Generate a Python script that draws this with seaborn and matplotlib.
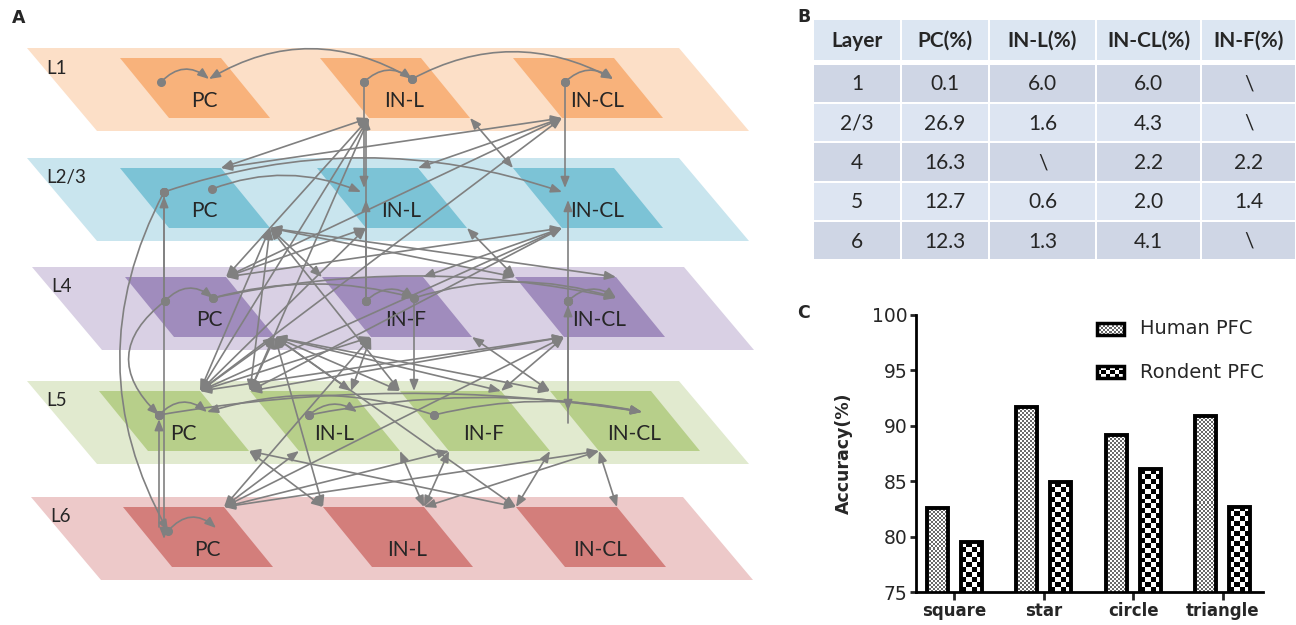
import numpy as np
import pandas as pd
import matplotlib
matplotlib.use("Agg")
import matplotlib.pyplot as plt
import seaborn as sns
from matplotlib.patches import Polygon, Rectangle, FancyArrowPatch
from matplotlib.colors import ListedColormap

# ---------------- data ----------------
# panel A : layers, cell types and their connections
layer_names = ["L1", "L2/3", "L4", "L5", "L6"]
layer_cells = [["PC", "IN-L", "IN-CL"],
               ["PC", "IN-L", "IN-CL"],
               ["PC", "IN-F", "IN-CL"],
               ["PC", "IN-L", "IN-F", "IN-CL"],
               ["PC", "IN-L", "IN-CL"]]
outer_colors = ["#fcdfc7", "#c9e5ee", "#d9d0e4", "#e1eacf", "#edc9c9"]
inner_colors = ["#f8b27b", "#7cc3d6", "#a08cbd", "#b7cf8a", "#d37e7b"]

# two-way links between cell groups of different layers
links = [
    ("L1:IN-L:BL", "L2/3:PC:TR"), ("L1:IN-L:BL", "L4:PC:TR"),
    ("L1:IN-L:BL", "L5:PC:TR"), ("L1:IN-L:BL", "L5:IN-L:TL"),
    ("L1:IN-CL:BL", "L2/3:IN-L:TR"), ("L1:IN-CL:BL", "L2/3:PC:TR"),
    ("L1:IN-CL:BL", "L4:PC:TR"), ("L1:IN-CL:BL", "L5:PC:TR"),
    ("L1:IN-L:BR", "L2/3:IN-CL:TL"),
    ("L2/3:PC:BR", "L4:IN-F:TL"), ("L2/3:PC:BR", "L4:IN-CL:TL"),
    ("L2/3:PC:BR", "L4:IN-CL:TR"), ("L2/3:PC:BR", "L5:PC:TR"),
    ("L2/3:PC:BR", "L5:IN-L:TL"), ("L2/3:PC:BR", "L5:IN-F:TL"),
    ("L2/3:IN-L:BL", "L4:PC:TR"), ("L2/3:IN-L:BL", "L5:PC:TR"),
    ("L2/3:IN-CL:BL", "L4:PC:TR"), ("L2/3:IN-CL:BL", "L4:IN-F:TR"),
    ("L2/3:IN-CL:BL", "L5:PC:TR"), ("L2/3:IN-CL:BL", "L5:IN-L:TL"),
    ("L2/3:IN-L:BR", "L4:IN-CL:TL"),
    ("L4:PC:BR", "L5:PC:TR"), ("L4:PC:BR", "L5:IN-L:TL"),
    ("L4:PC:BR", "L5:IN-L:TR"), ("L4:PC:BR", "L5:IN-F:TL"),
    ("L4:PC:BR", "L5:IN-F:TR"), ("L4:PC:BR", "L5:IN-CL:TL"),
    ("L4:PC:BR", "L6:IN-L:TL"), ("L4:PC:BR", "L6:IN-CL:TL"),
    ("L4:IN-F:BL", "L5:PC:TR"), ("L4:IN-F:BL", "L5:IN-L:TR"),
    ("L4:IN-F:BL", "L6:PC:TR"),
    ("L4:IN-CL:BL", "L5:PC:TR"), ("L4:IN-CL:BL", "L5:IN-L:TL"),
    ("L4:IN-CL:BL", "L5:IN-F:TR"), ("L4:IN-CL:BL", "L6:PC:TR"),
    ("L4:IN-F:BR", "L5:IN-CL:TL"),
    ("L5:PC:BR", "L6:IN-L:TL"), ("L5:PC:BR", "L6:IN-CL:TL"),
    ("L5:IN-L:BL", "L6:PC:TR"), ("L5:IN-L:BR", "L6:IN-L:TR"),
    ("L5:IN-F:BL", "L6:PC:TR"), ("L5:IN-F:BL", "L6:IN-L:TR"),
    ("L5:IN-F:BR", "L6:IN-CL:TL"),
    ("L5:IN-CL:BL", "L6:PC:TR"), ("L5:IN-CL:BL", "L6:IN-L:TR"),
    ("L5:IN-CL:BL", "L6:IN-CL:TR"),
]
# vertical one-way links: (cell, other layer, level there, direction)
vlinks = [
    ("L1:IN-L:p", "L2/3", "mid", "out"), ("L4:IN-F:p", "L1", "bot", "out"),
    ("L4:IN-F:p", "L2/3", "low", "out"), ("L1:IN-CL:p", "L2/3", "mid", "out"),
    ("L4:IN-CL:p", "L2/3", "low", "out"), ("L4:IN-CL:p", "L5", "mid", "out"),
    ("L4:IN-CL:p", "L5", "low", "in"), ("L4:IN-F:q", "L5", "top", "out"),
    ("L2/3:PC:p", "L4", "mid", "in"), ("L2/3:PC:p", "L6", "low", "out"),
    ("L5:PC:p", "L6", "mid", "in"),
]
# curved links (source dot -> target arrow, bulge height)
arcs = [
    ("L1:PC:p", "L1:PC:q", 11), ("L1:IN-L:q", "L1:PC:q", 30),
    ("L1:IN-L:p", "L1:IN-L:q", 10), ("L1:IN-L:q", "L1:IN-CL:q", 27),
    ("L1:IN-CL:p", "L1:IN-CL:q", 10),
    ("L2/3:PC:q", "L2/3:IN-L:p", 15), ("L2/3:PC:p", "L2/3:IN-CL:p", 34),
    ("L4:PC:p", "L4:PC:q", 11), ("L4:PC:q", "L4:IN-F:q", 14),
    ("L4:PC:q", "L4:IN-CL:q", 22), ("L4:IN-F:p", "L4:IN-F:q", 10),
    ("L4:IN-F:q", "L4:IN-CL:q", 16), ("L4:IN-CL:p", "L4:IN-CL:q", 10),
    ("L5:PC:p", "L5:PC:q", 11), ("L5:IN-F:p", "L5:PC:q", 18),
    ("L5:PC:p", "L5:IN-CL:q", 20), ("L5:IN-L:p", "L5:IN-L:q", 9),
    ("L5:IN-L:p", "L5:IN-CL:q", 16), ("L5:IN-F:p", "L5:IN-CL:q", 12),
    ("L6:PC:p", "L6:PC:q", 12),
    ("L2/3:PC:p", "L6:PC:p", 46), ("L4:PC:p", "L5:PC:p", 33),
]

# panel B : table
table_header = ["Layer", "PC(%)", "IN-L(%)", "IN-CL(%)", "IN-F(%)"]
table_rows = [["1", "0.1", "6.0", "6.0", "\\"],
              ["2/3", "26.9", "1.6", "4.3", "\\"],
              ["4", "16.3", "\\", "2.2", "2.2"],
              ["5", "12.7", "0.6", "2.0", "1.4"],
              ["6", "12.3", "1.3", "4.1", "\\"]]

# panel C : accuracy
shapes = ["square", "star", "circle", "triangle"]
groups = ["Human PFC", "Rondent PFC"]
human_acc = [82.6, 91.7, 89.2, 90.9]
rodent_acc = [79.5, 84.9, 86.1, 82.7]

# ---------------- layout of panel A (pixel space) ----------------
layer_top = [48, 158, 267, 381, 497]
layer_left = [27, 27, 32, 27, 31]
cell_left = [[120, 320, 513], [120, 317, 513], [125, 322, 515],
             [99, 250, 400, 550], [123, 323, 516]]
dot_dx = [[41, 44, 52], [44, 44, 49], [40, 44, 53], [60, 59, 34, 44], [45, 44, 44]]
GRAY = "#808080"
HEADS = "head_length=0.55,head_width=0.22"


def anchor(spec):
    ln, cell, a = spec.split(":")
    li = layer_names.index(ln)
    ci = layer_cells[li].index(cell)
    x0 = cell_left[li][ci]
    t = layer_top[li] + 10
    d = dot_dx[li][ci]
    pts = {"TL": (x0, t), "TR": (x0 + 101, t), "BL": (x0 + 49, t + 60),
           "BR": (x0 + 150, t + 60), "p": (x0 + d, t + 24), "q": (x0 + d + 48, t + 21)}
    return pts[a]


def level_y(ln, lev):
    t = layer_top[layer_names.index(ln)] + 10
    return {"top": t, "mid": t + 20, "low": t + 32, "bot": t + 60}[lev]


sns.set_style("white")
plt.rcParams["font.family"] = ["DejaVu Sans"]

fig = plt.figure(figsize=(12.96, 6.25), dpi=100)
ax0 = fig.add_axes([0, 0, 1, 1])
ax0.axis("off")

# layer planes
for li, name in enumerate(layer_names):
    T = layer_top[li]
    L = layer_left[li]
    ax0.add_patch(Polygon([(L, T), (L + 652, T), (L + 722, T + 83), (L + 70, T + 83)],
                          closed=True, fc=outer_colors[li], ec="none", zorder=1))
    ax0.text(L + 19, T + 20, name, fontsize=13.5, family="Lato", va="center", ha="left", zorder=2)
    for ci, cell in enumerate(layer_cells[li]):
        x0 = cell_left[li][ci]
        t = T + 10
        ax0.add_patch(Polygon([(x0, t), (x0 + 101, t), (x0 + 150, t + 60), (x0 + 49, t + 60)],
                              closed=True, fc=inner_colors[li], ec="none", zorder=2))
        ax0.text(x0 + 84, t + 43, cell, fontsize=15, family="Lato", ha="center", va="center", zorder=3)

# straight two-way links
for a, b in links:
    ax0.add_patch(FancyArrowPatch(anchor(a), anchor(b), arrowstyle="<|-|>," + HEADS,
                                  mutation_scale=12, lw=1.2, color=GRAY, shrinkA=0, shrinkB=0, zorder=5))

# vertical links
dots = []
for spec, ln, lev, way in vlinks:
    p = anchor(spec)
    other = (p[0], level_y(ln, lev))
    dots.append(p)
    src, dst = (p, other) if way == "out" else (other, p)
    ax0.add_patch(FancyArrowPatch(src, dst, arrowstyle="-|>," + HEADS, mutation_scale=12,
                                  lw=1.2, color=GRAY, shrinkA=0, shrinkB=3 if way == "in" else 0, zorder=5))

# curved links
for a, b, h in arcs:
    p1, p2 = anchor(a), anchor(b)
    dx = p2[0] - p1[0]
    dy_up = -(p2[1] - p1[1])
    length = np.hypot(dx, dy_up)
    if abs(dx) >= abs(dy_up):
        rad = -np.sign(dx) * 2 * h / length
    else:
        rad = -np.sign(dy_up) * 2 * h / length
    ax0.add_patch(FancyArrowPatch(p1, p2, arrowstyle="-|>," + HEADS, mutation_scale=12,
                                  connectionstyle=f"arc3,rad={rad:.3f}", lw=1.2, color=GRAY,
                                  shrinkA=0, shrinkB=0, zorder=5))
    dots.append(p1)

dots = np.array(dots)
ax0.plot(dots[:, 0], dots[:, 1], "o", color=GRAY, ms=5.5, zorder=6)

# ---------------- panel B : table ----------------
col_edges = [813, 901, 989, 1096, 1201, 1296]
row_edges = [(19, 61), (64, 103), (103, 142), (142, 182), (182, 221), (221, 260)]
row_colors = ["#dce6f2", "#cfd6e5", "#dde5f2", "#cfd6e5", "#dde5f2", "#cfd6e5"]
for ri, (y0, y1) in enumerate(row_edges):
    texts = table_header if ri == 0 else table_rows[ri - 1]
    for ci in range(len(table_header)):
        x0, x1 = col_edges[ci], col_edges[ci + 1]
        ax0.add_patch(Rectangle((x0 + 1, y0 + 1), x1 - x0 - 2, y1 - y0 - 2,
                                fc=row_colors[ri], ec="none", zorder=1))
        ax0.text((x0 + x1) / 2, (y0 + y1) / 2 + 1, texts[ci], fontsize=15, family="Lato",
                 fontweight="bold" if ri == 0 else "normal", ha="center", va="center", zorder=2)

# panel letters
for letter, (x, y) in zip("ABC", [(12, 18), (797, 17), (797, 313)]):
    ax0.text(x, y, letter, fontsize=12.5, fontweight="bold", family="DejaVu Sans",
             ha="left", va="center")

# ---------------- panel C : bar chart ----------------
df = pd.DataFrame({"shape": shapes * 2,
                   "group": [groups[0]] * 4 + [groups[1]] * 4,
                   "acc": human_acc + rodent_acc})

axc = fig.add_axes([916 / 1296, 33 / 625, 347 / 1296, 277 / 625])
axc.patch.set_facecolor("none")
sns.barplot(data=df, x="shape", y="acc", hue="group", order=shapes, hue_order=groups,
            palette=["white", "white"], saturation=1, edgecolor="black", linewidth=2.8,
            width=0.76, gap=0.38, errorbar=None, legend=False, ax=axc)
axc.set_xlim(-0.43, 3.45)
axc.set_ylim(75, 100)

px_x = 347 / 3.88
px_y = 277 / 25
human_cmap = ListedColormap(["#6a6a6a", "white"])
rodent_cmap = ListedColormap(["black", "white"])


def checker(nx, ny):
    return np.indices((max(ny, 1), max(nx, 1))).sum(axis=0) % 2


for bar in list(axc.patches):
    x, w, h = bar.get_x(), bar.get_width(), bar.get_height()
    human = (x + w / 2) < round(x + w / 2)
    cell = 2.0 if human else 5.0
    img = checker(int(round(w * px_x / cell)), int(round((h - 75) * px_y / cell)))
    im = axc.imshow(img, extent=(x, x + w, 75, h), origin="lower", aspect="auto",
                    cmap=human_cmap if human else rodent_cmap, interpolation="nearest",
                    vmin=0, vmax=1, zorder=bar.get_zorder() + 0.01)
    im.set_clip_path(bar)
    bar.set_facecolor("none")
    bar.set_zorder(bar.get_zorder() + 0.02)

axc.set_xlim(-0.43, 3.45)
axc.set_ylim(75, 100)
axc.set_yticks([75, 80, 85, 90, 95, 100])
sns.despine(ax=axc)
for s in ["left", "bottom"]:
    axc.spines[s].set_linewidth(2)
    axc.spines[s].set_color("black")
axc.tick_params(axis="y", direction="out", length=4, width=2, labelsize=13.5, pad=2, left=True)
axc.tick_params(axis="x", direction="out", length=6, width=2, labelsize=12, pad=1, bottom=True)
for lab in axc.get_xticklabels():
    lab.set_fontweight("bold")
axc.set_xlabel("")
axc.set_ylabel("Accuracy(%)", fontsize=12.5, fontweight="bold", labelpad=14)

# legend drawn with checker swatches
for gi, (name, cmap, cell) in enumerate(zip(groups, [human_cmap, rodent_cmap], [2.0, 4.0])):
    y0 = 323 + gi * 43
    ax0.imshow(checker(int(27 / cell), int(12 / cell)), extent=(1097, 1124, y0 + 12, y0),
               cmap=cmap, vmin=0, vmax=1, interpolation="nearest", aspect="auto", zorder=6)
    ax0.add_patch(Rectangle((1097, y0), 27, 12, fc="none", ec="black", lw=2.5, zorder=7))
    ax0.text(1140, y0 + 6, name, fontsize=14, ha="left", va="center")

ax0.set_xlim(0, 1296)
ax0.set_ylim(625, 0)

fig.savefig("out.png", dpi=100)
